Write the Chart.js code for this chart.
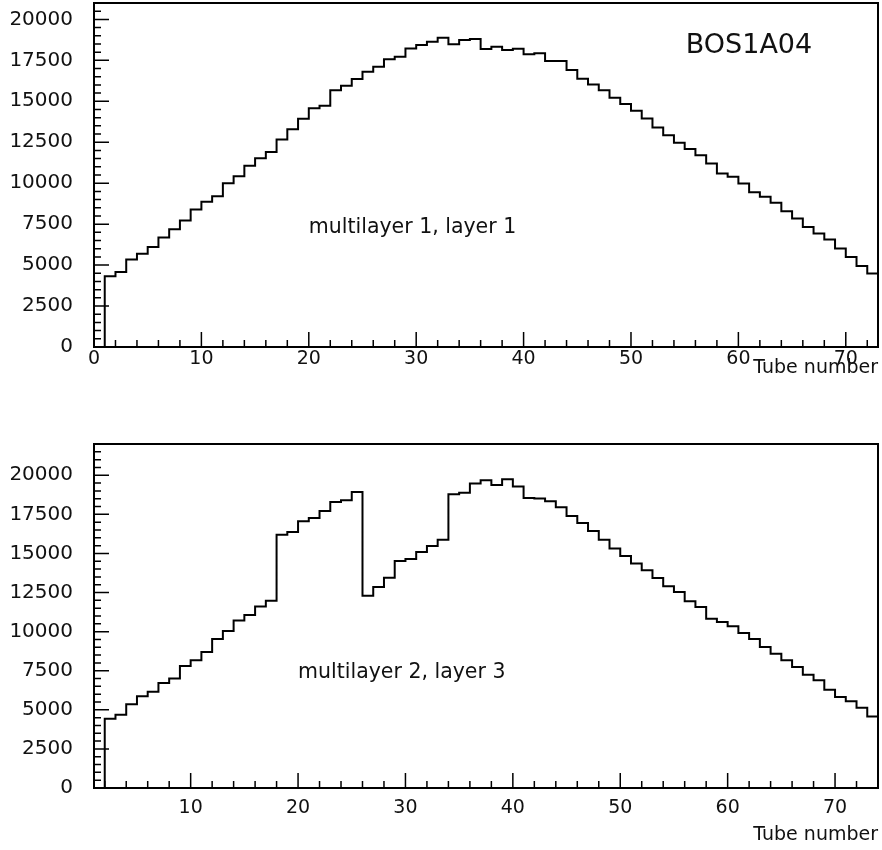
<!DOCTYPE html>
<html>
<head>
<meta charset="utf-8">
<title>BOS1A04 — tube occupancy</title>
<script src="https://cdn.jsdelivr.net/npm/chart.js@4/dist/chart.umd.min.js"></script>
<style>
  html, body { margin: 0; padding: 0; background: #fff; }
  #wrap  { position: relative; width: 882px; height: 850px; }
  .pane  { position: absolute; left: 0; width: 882px; }
  #paneTop { top: 0;     height: 400px; }
  #paneBot { top: 420px; height: 430px; }
</style>
</head>
<body>
<div id="wrap">
  <div class="pane" id="paneTop"><canvas id="chartTop"></canvas></div>
  <div class="pane" id="paneBot"><canvas id="chartBot"></canvas></div>
</div>
<script>
"use strict";

// ── DATA ────────────────────────────────────
const chamberName = "BOS1A04";
const xTitle      = "Tube number";

// multilayer 1, layer 1 : tubes 1..72
const labelTop     = "multilayer 1, layer 1";
const firstTubeTop = 1;
const countsTop = [
  4320, 4580, 5340, 5700, 6110, 6680, 7190, 7720, 8390, 8860,
  9210, 10000, 10430, 11060, 11530, 11910, 12670, 13300, 13930, 14570,
  14730, 15680, 15950, 16360, 16800, 17110, 17560, 17720, 18230, 18430,
  18640, 18880, 18480, 18740, 18800, 18190, 18330, 18130, 18210, 17870,
  17930, 17460, 17460, 16910, 16380, 16030, 15680, 15210, 14830, 14420,
  13950, 13400, 12930, 12470, 12080, 11710, 11200, 10590, 10390, 9980,
  9450, 9170, 8800, 8290, 7840, 7330, 6930, 6560, 6010, 5500,
  4950, 4480
];

// multilayer 2, layer 3 : tubes 2..73
const labelBot     = "multilayer 2, layer 3";
const firstTubeBot = 2;
const countsBot = [
  4430, 4690, 5350, 5860, 6160, 6720, 7010, 7800, 8170, 8700,
  9530, 10040, 10720, 11070, 11600, 11980, 16200, 16370, 17060, 17270,
  17720, 18290, 18400, 18930, 12300, 12860, 13450, 14520, 14650, 15090,
  15480, 15880, 18780, 18890, 19480, 19680, 19380, 19740, 19280, 18550,
  18510, 18340, 17950, 17400, 16950, 16440, 15880, 15310, 14840, 14350,
  13920, 13430, 12900, 12540, 11940, 11580, 10830, 10620, 10340, 9910,
  9530, 9020, 8590, 8170, 7740, 7250, 6890, 6290, 5820, 5540,
  5140, 4580
];

const xTicksTop = [0, 10, 20, 30, 40, 50, 60, 70];
const xTicksBot = [10, 20, 30, 40, 50, 60, 70];
const yTicks    = [0, 2500, 5000, 7500, 10000, 12500, 15000, 17500, 20000];

// ── STYLE ───────────────────────────────────
const FONT      = "'DejaVu Sans', 'Liberation Sans', sans-serif";
const X_MINOR   = 2,   X_MAJOR = 10;
const Y_MINOR   = 500, Y_MAJOR = 2500;
const MAJOR_LEN = 15,  MINOR_LEN = 7;

Chart.defaults.font.family = FONT;
Chart.defaults.color = "#000";

// histogram outline: bin left edges, closed at both ends
function histPoints(first, counts) {
  const pts = [{ x: first, y: 0 }];
  counts.forEach((c, i) => pts.push({ x: first + i, y: c }));
  const end = first + counts.length;
  pts.push({ x: end, y: counts[counts.length - 1] });
  pts.push({ x: end, y: 0 });
  return pts;
}

// kill the auto label padding so the frame sits where we put it
function noPad(s) {
  s.paddingTop = 0; s.paddingBottom = 0;
  s.paddingLeft = 0; s.paddingRight = 0;
}

/* ══════════════════════════════════════════
   FRAME + INWARD TICKS + TEXT (PAW style)
══════════════════════════════════════════ */
const pawFrame = {
  id: "pawFrame",
  afterDatasetsDraw(chart, args, opts) {
    const { ctx, chartArea: a } = chart;
    const xs = chart.scales.x, ys = chart.scales.y;
    ctx.save();
    ctx.strokeStyle = "#000";
    ctx.lineWidth = 2;
    ctx.strokeRect(a.left, a.top, a.right - a.left, a.bottom - a.top);

    ctx.lineWidth = 1.5;
    ctx.beginPath();
    for (let v = Math.ceil(xs.min / X_MINOR) * X_MINOR; v <= xs.max; v += X_MINOR) {
      const px = xs.getPixelForValue(v);
      const len = v % X_MAJOR === 0 ? MAJOR_LEN : MINOR_LEN;
      ctx.moveTo(px, a.bottom);
      ctx.lineTo(px, a.bottom - len);
    }
    for (let v = 0; v <= ys.max; v += Y_MINOR) {
      const py = ys.getPixelForValue(v);
      const len = v % Y_MAJOR === 0 ? MAJOR_LEN : MINOR_LEN;
      ctx.moveTo(a.left, py);
      ctx.lineTo(a.left + len, py);
    }
    ctx.stroke();

    ctx.fillStyle = "#111";
    ctx.textBaseline = "middle";
    ctx.textAlign = "left";
    (opts.notes || []).forEach(n => {
      ctx.font = n.size + "px " + FONT;
      ctx.fillText(n.text, xs.getPixelForValue(n.x), ys.getPixelForValue(n.y));
    });
    ctx.restore();
  }
};

function makeChart(canvasId, cfg) {
  return new Chart(document.getElementById(canvasId), {
    type: "line",
    data: {
      datasets: [{
        data: histPoints(cfg.first, cfg.counts),
        stepped: true,
        borderColor: "#000",
        borderWidth: 2,
        pointRadius: 0,
        fill: false
      }]
    },
    options: {
      responsive: true,
      maintainAspectRatio: false,
      animation: false,
      layout: { padding: { top: cfg.padTop, right: 4, left: 0, bottom: 0 } },
      scales: {
        x: {
          type: "linear",
          min: cfg.xMin, max: cfg.xMax,
          afterBuildTicks: s => { s.ticks = cfg.xTicks.map(v => ({ value: v })); },
          afterFit: s => { s.height = cfg.xAxisH; noPad(s); },
          grid:   { display: false, drawTicks: false },
          border: { display: false },
          ticks:  { font: { size: 19 }, padding: cfg.xTickPad, maxRotation: 0, color: "#111",
                    callback: v => String(v) },
          title:  { display: true, text: xTitle, align: "end", color: "#111",
                    font: { size: 19 }, padding: { top: 0, bottom: cfg.titlePad } }
        },
        y: {
          min: 0, max: cfg.yMax,
          afterBuildTicks: s => { s.ticks = yTicks.map(v => ({ value: v })); },
          afterFit: s => { s.width = 94; noPad(s); },
          grid:   { display: false, drawTicks: false },
          border: { display: false },
          ticks:  { font: { size: 20 }, padding: 21, color: "#111",
                    callback: v => String(v) }
        }
      },
      plugins: {
        legend:  { display: false },
        tooltip: { enabled: false },
        pawFrame: { notes: cfg.notes }
      }
    },
    plugins: [pawFrame]
  });
}

makeChart("chartTop", {
  first: firstTubeTop, counts: countsTop,
  xMin: 0, xMax: 73, yMax: 21000, xTicks: xTicksTop,
  padTop: 3, xAxisH: 53, xTickPad: 1, titlePad: 21,
  notes: [
    { text: labelTop,    x: 20,   y: 7300,  size: 20.5 },
    { text: chamberName, x: 55.1, y: 18400, size: 27 }
  ]
});

makeChart("chartBot", {
  first: firstTubeBot, counts: countsBot,
  xMin: 1, xMax: 74, yMax: 22000, xTicks: xTicksBot,
  padTop: 24, xAxisH: 62, xTickPad: 9, titlePad: 4,
  notes: [
    { text: labelBot, x: 20, y: 7380, size: 20.5 }
  ]
});
</script>
</body>
</html>
